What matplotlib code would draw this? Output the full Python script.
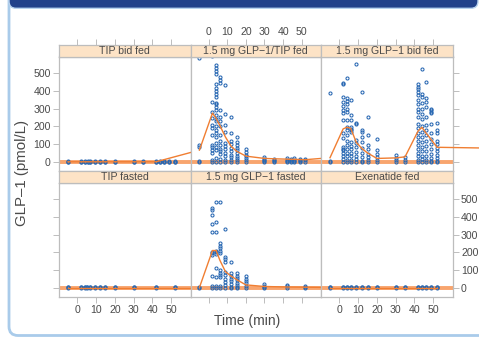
import matplotlib
matplotlib.use('Agg')
import matplotlib.pyplot as plt
from matplotlib.patches import FancyBboxPatch

plt.rcParams['font.family'] = ['Liberation Sans', 'DejaVu Sans']

# ---------------- data ----------------
panel_titles = ["TIP bid fed", "1.5 mg GLP\u22121/TIP fed", "1.5 mg GLP\u22121 bid fed",
                "TIP fasted", "1.5 mg GLP\u22121 fasted", "Exenatide fed"]

x_ticks = [0, 10, 20, 30, 40, 50]
y_ticks = [0, 100, 200, 300, 400, 500]

times_tip_bid = [-5, 2, 4, 5.5, 7, 9.5, 12, 15, 20, 30, 35, 42, 44, 46, 49, 52]
times_fed = [-5, 2, 4, 6, 9, 12, 15, 20, 30, 35, 42, 44, 46, 49, 52]
times_tip_fasted = [-5, 2, 4, 5, 6.5, 9.5, 12, 15, 20, 30, 42, 52]
times_fasted = [-5, 2, 4, 6, 9, 12, 15, 20, 30, 42, 52]

# individual observations (pmol/L) per sampling time
tip_bid_fed_obs = [[0, 1, 2], [0, 1, 2], [0, 1, 2], [0, 1, 2], [0, 1, 2], [0, 1, 2],
                   [0, 1, 2], [0, 1, 2], [0, 1, 2], [0, 1, 2], [0, 1, 2], [0, 1, 2],
                   [0, 1, 2], [0, 1, 2], [0, 1, 2], [0, 1, 2]]
glp_tip_fed_obs = [
    [584, 94, 81, 2, 0],
    [600, 340, 282, 250, 207, 190, 150, 94, 85, 66, 47, 9, 0],
    [545, 530, 515, 495, 440, 415, 400, 385, 365, 335, 325, 310, 290, 265, 240, 230,
     200, 180, 160, 140, 105, 85, 66, 20, 0],
    [480, 465, 445, 290, 255, 230, 205, 150, 120, 95, 75, 60, 45, 15, 0],
    [435, 270, 210, 170, 105, 90, 70, 50, 30, 10, 0],
    [255, 160, 120, 100, 80, 60, 40, 25, 10, 0],
    [140, 110, 95, 80, 65, 50, 35, 20, 10, 0],
    [70, 55, 40, 30, 20, 10, 0],
    [25, 18, 10, 5, 0],
    [18, 10, 5, 0],
    [20, 12, 6, 0],
    [18, 10, 4, 0],
    [22, 12, 5, 0],
    [16, 8, 3, 0],
    [15, 8, 0],
]
glp_bid_fed_obs = [
    [390, 5, 0],
    [446, 438, 367, 339, 314, 292, 273, 239, 164, 132, 85, 75, 66, 47, 32, 15, 0],
    [476, 358, 345, 326, 301, 282, 235, 198, 179, 150, 120, 95, 70, 50, 30, 10, 0],
    [348, 264, 239, 198, 188, 179, 169, 110, 90, 70, 50, 30, 10, 0],
    [555, 220, 213, 125, 105, 85, 55, 35, 15, 0],
    [392, 179, 169, 140, 110, 80, 50, 25, 5, 0],
    [254, 151, 95, 70, 45, 25, 10, 0],
    [130, 65, 45, 25, 10, 0],
    [38, 19, 9, 0],
    [28, 9, 0],
    [442, 424, 414, 395, 377, 348, 325, 300, 280, 254, 215, 190, 165, 140, 120, 95, 70, 50, 30, 10, 0],
    [522, 382, 367, 330, 300, 270, 240, 200, 170, 140, 110, 85, 60, 35, 15, 0],
    [452, 358, 340, 311, 254, 210, 180, 150, 120, 90, 60, 30, 10, 0],
    [301, 292, 283, 273, 211, 160, 130, 100, 70, 45, 20, 5, 0],
    [217, 179, 160, 120, 100, 80, 60, 40, 20, 5, 0],
]
tip_fasted_obs = [[0, 1, 2], [0, 1, 2], [0, 1, 2], [0, 1, 2], [0, 1, 2], [0, 1, 2],
                  [0, 1, 2], [0, 1, 2], [0, 1, 2], [0, 1, 2], [0, 1, 2], [0, 1, 2]]
glp_fasted_obs = [
    [0, 2],
    [449, 439, 411, 360, 317, 204, 194, 185, 66, 9, 0],
    [486, 373, 317, 210, 200, 190, 109, 60, 9, 0],
    [486, 251, 236, 222, 209, 194, 100, 85, 70, 62, 10, 0],
    [330, 175, 160, 147, 90, 70, 50, 30, 15, 0],
    [147, 80, 65, 50, 35, 20, 5, 0],
    [80, 65, 55, 40, 25, 15, 5, 0],
    [65, 50, 35, 25, 10, 0],
    [20, 10, 5, 0],
    [12, 6, 0],
    [10, 5, 0],
]
exenatide_fed_obs = [[0, 1, 2], [0, 1, 2], [0, 1, 2], [0, 1, 2], [0, 1, 2], [0, 1, 2],
                     [0, 1, 2], [0, 1, 2], [0, 1, 2], [0, 1, 2], [0, 1, 2], [0, 1, 2],
                     [0, 1, 2], [0, 1, 2], [0, 1, 2]]

# mean curves
tip_bid_fed_mean_t = [-5, 2, 4, 5.5, 7, 9.5, 12, 15, 20, 30, 35, 42]
tip_bid_fed_mean = [0, 0, 0, 0, 0, 0, 0, 0, 0, 0, 0, 0]
glp_tip_fed_mean = [66, 275, 245, 205, 140, 88, 60, 32, 19, 17, 15, 14, 14, 13, 12]
glp_bid_fed_mean = [23, 186, 195, 190, 110, 75, 50, 19, 22, 28, 175, 195, 165, 125, 82]
glp_bid_fed_tail = (76, 78)
tip_fasted_mean = [0, 0, 0, 0, 0, 0, 0, 0, 0, 0, 0, 0]
glp_fasted_mean = [0, 210, 210, 155, 90, 65, 45, 15, 6, 3, 2]
exenatide_fed_mean = [0, 0, 0, 0, 0, 0, 0, 0, 0, 0, 0, 0, 0, 0, 0]

panels = [
    (times_tip_bid, tip_bid_fed_obs, tip_bid_fed_mean_t, tip_bid_fed_mean),
    (times_fed, glp_tip_fed_obs, times_fed, glp_tip_fed_mean),
    (times_fed, glp_bid_fed_obs, times_fed, glp_bid_fed_mean),
    (times_tip_fasted, tip_fasted_obs, times_tip_fasted, tip_fasted_mean),
    (times_fasted, glp_fasted_obs, times_fasted, glp_fasted_mean),
    (times_fed, exenatide_fed_obs, times_fed, exenatide_fed_mean),
]

# ---------------- styling ----------------
W, H = 479, 337
fig = plt.figure(figsize=(W / 100, H / 100), dpi=100)

GRID = '#BDBDBD'
TXT = '#4A4A4A'
BLUE = '#2767B2'
ORANGE = '#F07E32'
ORANGE_L = '#F8A56E'
STRIP = '#FDE3C6'


def fx(px):
    return px / W


def add_ax(x0, x1, y0, y1, **kw):
    return fig.add_axes([x0 / W, 1 - y1 / H, (x1 - x0) / W, (y1 - y0) / H], **kw)


# slide-like frame decoration
bg = fig.add_axes([0, 0, 1, 1], zorder=-5)
bg.set_xlim(0, W)
bg.set_ylim(H, 0)
bg.axis('off')
bg.add_patch(FancyBboxPatch((9, -20), 520, 355.5, boxstyle='round,pad=0,rounding_size=9',
                            fc='white', ec='#A9CBEA', lw=2))
bg.add_patch(FancyBboxPatch((9, -20), 469, 28.3, boxstyle='round,pad=0,rounding_size=7',
                            fc='#22418A', ec='#B9D3EE', lw=1))

col_x = [59, 190.5, 321, 452.7]
row_y = [(45, 56.5, 171), (171, 182.7, 296.7)]
XLIM = (-9.8, 60.4)
YLIM = (-52, 595)

axes = []
for r in range(2):
    for c in range(3):
        s0, s1, p1 = row_y[r]
        ax = add_ax(col_x[c], col_x[c + 1], s1, p1)
        st = add_ax(col_x[c], col_x[c + 1], s0, s1)
        for a in (ax, st):
            a.set_xlim(*XLIM)
            for sp in a.spines.values():
                sp.set_color(GRID)
                sp.set_linewidth(0.9)
        ax.set_ylim(*YLIM)
        st.set_ylim(0, 1)
        st.set_facecolor(STRIP)
        st.set_yticks([])
        st.text(0.5, 0.45, panel_titles[r * 3 + c], transform=st.transAxes,
                ha='center', va='center', fontsize=7.6, color=TXT)
        ax.set_xticks(x_ticks)
        ax.set_yticks(y_ticks)
        st.set_xticks(x_ticks)
        for a in (ax, st):
            a.tick_params(direction='out', length=4, width=0.7, color=GRID,
                          labelsize=7.6, labelcolor=TXT, pad=2)
        st.tick_params(bottom=False, labelbottom=False,
                       top=(r == 0), labeltop=(r == 0 and c == 1))
        ax.tick_params(top=False, labeltop=False,
                       bottom=(r == 1), labelbottom=(r == 1 and c != 1),
                       left=(c == 0), labelleft=(c == 0 and r == 0),
                       right=(c == 2), labelright=(c == 2 and r == 1))
        axes.append(ax)

# draw data
for i, (t_obs, obs, t_mean, mean) in enumerate(panels):
    ax = axes[i]
    ax.axhline(0, color=ORANGE_L, lw=2.8, zorder=1)
    xs, ys = [], []
    for t, vals in zip(t_obs, obs):
        for v in vals:
            xs.append(t)
            ys.append(v)
    lx = list(t_mean)
    ly = list(mean)
    # the mean line continues to the first point of the next panel in the row
    if i % 3 < 2:
        nxt = axes[i + 1]
        nt, nm = panels[i + 1][2][0], panels[i + 1][3][0]
        disp = nxt.transData.transform((nt, nm))
        px, py = ax.transData.inverted().transform(disp)
        lx.append(px)
        ly.append(py)
    elif i == 2:
        lx.append(glp_bid_fed_tail[0])
        ly.append(glp_bid_fed_tail[1])
    ax.plot(xs, ys, linestyle='none', marker='o', ms=2.2, mfc='none', mec=BLUE,
            mew=0.75, zorder=2, clip_on=False)
    ax.plot(lx, ly, color=ORANGE, lw=1.0, zorder=3, clip_on=False)

fig.text(fx(22), 1 - 173 / H, 'GLP\u20131 (pmol/L)', rotation=90, ha='center', va='center',
         fontsize=10.8, color=TXT)
fig.text(fx(247), 1 - 321 / H, 'Time (min)', ha='center', va='center',
         fontsize=10, color=TXT)

fig.savefig('out.png', dpi=100)
